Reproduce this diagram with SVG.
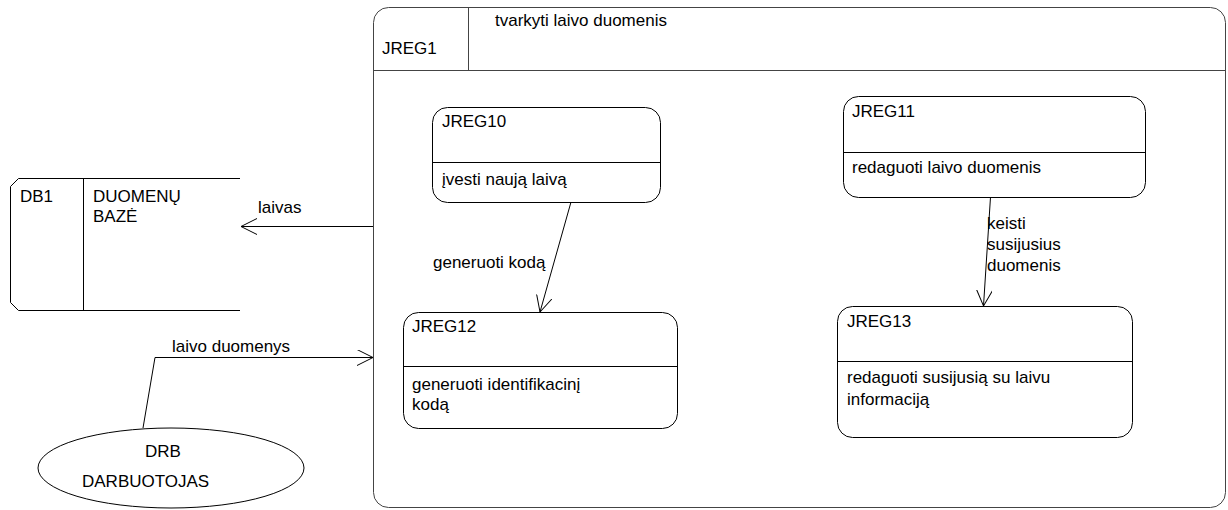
<svg xmlns="http://www.w3.org/2000/svg" width="1228" height="510" viewBox="0 0 1228 510">
<style>
text{font-family:"Liberation Sans",Arial,sans-serif;font-size:17px;fill:#000}
.b{fill:#fff;stroke:#000;stroke-width:1}
.o{fill:#fff;stroke:#444;stroke-width:1}
.l{fill:none;stroke:#000;stroke-width:1}
</style>
<defs>
<marker id="a" markerWidth="20" markerHeight="20" refX="16" refY="8" orient="auto" markerUnits="userSpaceOnUse">
<path d="M0,0 L16,8 L0,16" fill="none" stroke="#000" stroke-width="1"/>
</marker>
</defs>
<rect width="1228" height="510" fill="#fff"/>
<g id="JREG1">
<rect class="o" x="373.5" y="7.5" width="852" height="500" rx="15" ry="15"/>
<line class="o" x1="373.5" y1="70.5" x2="1225.5" y2="70.5"/>
<line class="o" x1="468.5" y1="7.5" x2="468.5" y2="70.5"/>
<text x="382" y="54">JREG1</text>
<text x="495" y="26">tvarkyti laivo duomenis</text>
</g>
<g id="JREG10">
<rect class="b" x="432.5" y="107.5" width="228" height="95" rx="15" ry="15"/>
<line class="l" x1="432.5" y1="162.5" x2="660.5" y2="162.5"/>
<text x="442" y="127">JREG10</text>
<text x="442" y="185">įvesti naują laivą</text>
</g>
<g id="JREG12">
<rect class="b" x="403.5" y="312.5" width="274" height="116" rx="15" ry="15"/>
<line class="l" x1="403.5" y1="366.5" x2="677.5" y2="366.5"/>
<text x="412" y="332">JREG12</text>
<text x="412" y="390">generuoti identifikacinį</text>
<text x="412" y="410">kodą</text>
</g>
<g id="JREG11">
<rect class="b" x="843.5" y="96.5" width="302" height="101" rx="15" ry="15"/>
<line class="l" x1="843.5" y1="152.5" x2="1145.5" y2="152.5"/>
<text x="852" y="117">JREG11</text>
<text x="852" y="173">redaguoti laivo duomenis</text>
</g>
<g id="JREG13">
<rect class="b" x="837.5" y="306.5" width="295" height="131" rx="15" ry="15"/>
<line class="l" x1="837.5" y1="361.5" x2="1132.5" y2="361.5"/>
<text x="847" y="327">JREG13</text>
<text x="847" y="383">redaguoti susijusią su laivu</text>
<text x="847" y="405">informaciją</text>
</g>
<g id="DB1">
<path class="l" d="M240,178.5 L18.5,178.5 L10.5,186.5 L10.5,302.5 L18.5,310.5 L240,310.5"/>
<line class="l" x1="83.5" y1="178.5" x2="83.5" y2="310.5"/>
<text x="20" y="202">DB1</text>
<text x="93" y="202">DUOMENŲ</text>
<text x="93" y="222">BAZĖ</text>
</g>
<g id="DRB">
<ellipse class="b" cx="171" cy="468" rx="133" ry="40"/>
<text x="145" y="457">DRB</text>
<text x="82" y="487">DARBUOTOJAS</text>
</g>
<g id="connectors">
<line class="l" x1="373" y1="226.5" x2="241" y2="226.5" marker-end="url(#a)"/>
<text x="258" y="213">laivas</text>
<polyline class="l" points="143,428 155,357.5 373,357.5" marker-end="url(#a)"/>
<text x="172" y="352">laivo duomenys</text>
<line class="l" x1="571" y1="202" x2="540" y2="312" marker-end="url(#a)"/>
<text x="433" y="268">generuoti kodą</text>
<line class="l" x1="990.5" y1="197" x2="983.5" y2="306" marker-end="url(#a)"/>
<text x="987" y="229">keisti</text>
<text x="987" y="250">susijusius</text>
<text x="987" y="271">duomenis</text>
</g>
</svg>
